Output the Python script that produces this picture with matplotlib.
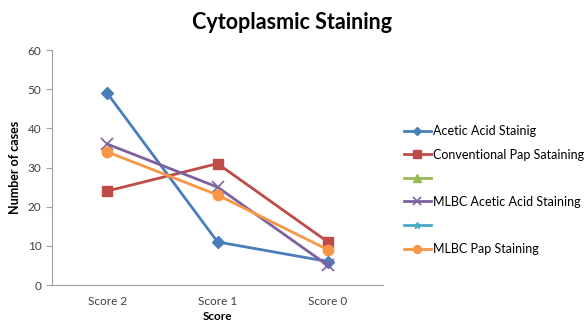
# cytoplasmic staining scores by method

import numpy as np
import matplotlib.pyplot as plt

plt.rcParams['font.family'] = ['Lato', 'DejaVu Sans']

scores = ["Score 2", "Score 1", "Score 0"]
acetic = [49, 11, 6]
conv_pap = [24, 31, 11]
mlbc_acetic = [36, 25, 5]
mlbc_pap = [34, 23, 9]

x = np.arange(len(scores))

fig = plt.figure(figsize=(5.84, 3.25), dpi=100)
ax = fig.add_axes([0.089, 0.123, 0.567, 0.723])

ax.plot(x, acetic, color="#4A7EBB", lw=2, marker="D", ms=6, label="Acetic Acid Stainig")
ax.plot(x, conv_pap, color="#BE4B48", lw=2, marker="s", ms=7, label="Conventional Pap Sataining")
ax.plot([], [], color="#98B954", lw=2, marker="^", ms=7, label=" ")
ax.plot(x, mlbc_acetic, color="#7D60A0", lw=2, marker="x", ms=8, mew=1.2, label="MLBC Acetic Acid Staining")
ax.plot([], [], color="#46AAC5", lw=2, marker="*", ms=6, label=" ")
ax.plot(x, mlbc_pap, color="#F79646", lw=2, marker="o", ms=7.5, label="MLBC Pap Staining")

ax.set_xlim(-0.5, 2.5)
ax.set_ylim(0, 60)
ax.set_yticks(range(0, 61, 10))
ax.set_xticks(x)
ax.set_xticklabels(scores)
ax.tick_params(axis="x", length=0, labelsize=8.5, colors="#404040", pad=8)
ax.tick_params(axis="y", length=4, labelsize=8.5, colors="#404040", color="#A0A0A0")
for s in ["top", "right"]:
    ax.spines[s].set_visible(False)
for s in ["left", "bottom"]:
    ax.spines[s].set_color("#A0A0A0")

ax.set_ylabel("Number of cases", fontsize=9, fontweight="bold", labelpad=5)
ax.set_xlabel("Score", fontsize=8.5, fontweight="bold", labelpad=3)
fig.text(0.5, 0.932, "Cytoplasmic Staining", ha="center", va="center",
         fontsize=15.5, fontweight="bold")

ax.legend(loc="center left", bbox_to_anchor=(0.691, 1 - 190 / 325),
          bbox_transform=fig.transFigure, frameon=False, markerscale=0.75,
          fontsize=9, handlelength=2.2, handletextpad=0.15, labelspacing=0.93,
          borderpad=0, borderaxespad=0)

fig.savefig("out.png", dpi=100)
